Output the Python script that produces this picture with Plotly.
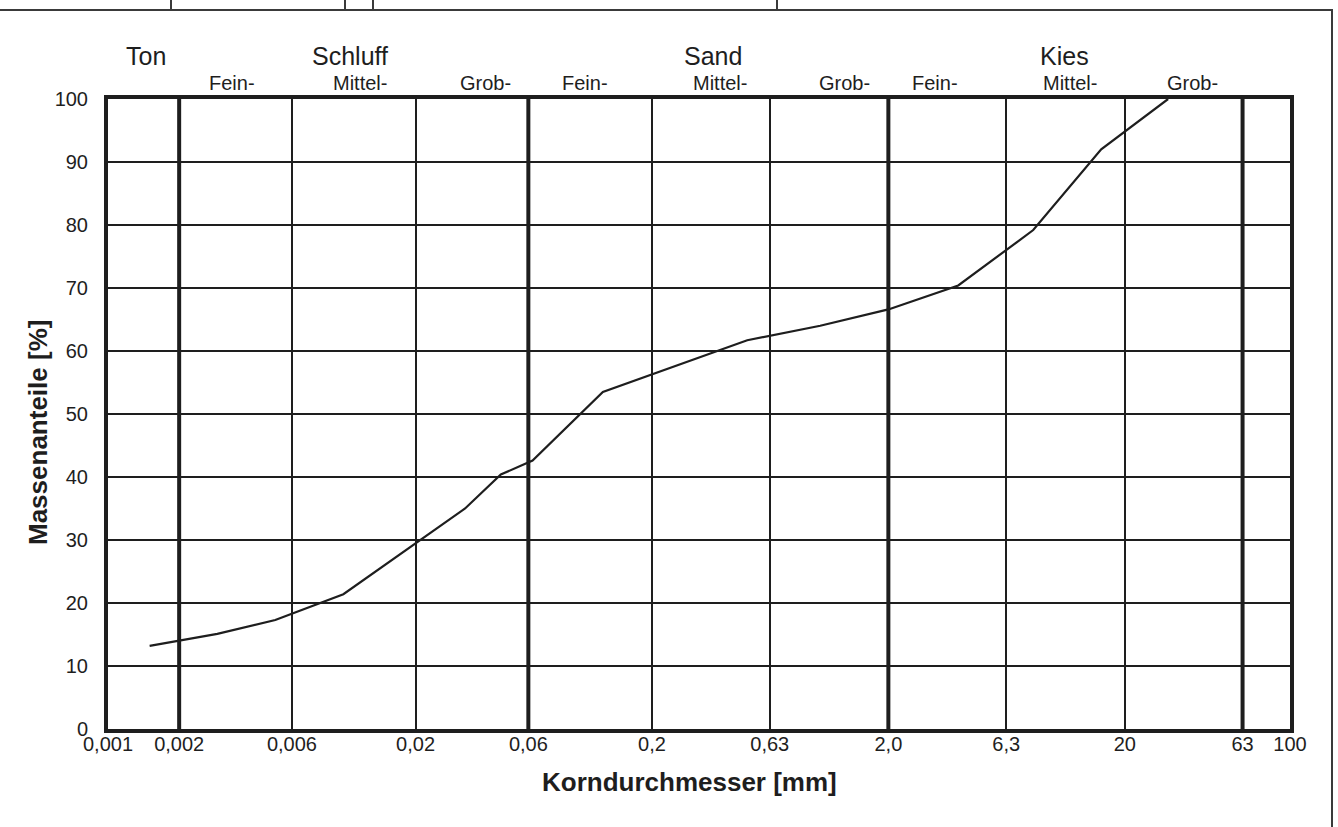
import math
import plotly.graph_objects as go

# ---- data ----
diameter_mm = [0.0015, 0.0029, 0.0051, 0.0099, 0.0324, 0.0459, 0.0625, 0.124,
               0.506, 1.03, 2.0, 3.95, 8.2, 15.9, 30.5]
mass_pct = [13.2, 15.1, 17.3, 21.4, 35.0, 40.4, 42.6, 53.5,
            61.7, 64.0, 66.6, 70.4, 79.2, 92.0, 100.0]

tick_vals = [0.001, 0.002, 0.006, 0.02, 0.06, 0.2, 0.63, 2.0, 6.3, 20, 63, 100]
tick_text = ["0,001", "0,002", "0,006", "0,02", "0,06", "0,2", "0,63", "2,0",
             "6,3", "20", "63", "100"]
boundary_vals = [0.002, 0.06, 2.0, 63]          # thick lines (main fractions)
y_ticks = [0, 10, 20, 30, 40, 50, 60, 70, 80, 90, 100]

main_labels = ["Ton", "Schluff", "Sand", "Kies"]
sub_labels = ["Fein-", "Mittel-", "Grob-", "Fein-", "Mittel-", "Grob-",
              "Fein-", "Mittel-", "Grob-"]

# ---- layout constants (positions, not data) ----
W, H = 1338, 827
L, R, T, B = 108, 1290, 99, 729
main_pos = [0.00145, 0.0106, 0.362, 11.1]
sub_pos = [0.00335, 0.0116, 0.0396, 0.104, 0.388, 1.31, 3.16, 11.7, 38.5]

def px(xp):
    return (xp - L) / (R - L)

def py(yp):
    return (B - yp) / (B - T)

INK = "#1e1e1e"
FONT = "Liberation Sans, Arial, sans-serif"

fig = go.Figure()
fig.add_trace(go.Scatter(
    x=diameter_mm, y=mass_pct, mode="lines",
    line=dict(color=INK, width=2.2), showlegend=False, hoverinfo="skip"))

shapes = []
for v in boundary_vals:
    shapes.append(dict(type="line", xref="x", yref="paper",
                       x0=v, x1=v, y0=0, y1=1,
                       line=dict(color=INK, width=4), layer="below"))

# page frame (decoration)
frame = dict(color="#3a3a3a", width=2)
shapes.append(dict(type="line", xref="paper", yref="paper",
                   x0=px(0), x1=px(1333), y0=py(10), y1=py(10), line=frame))
for xv in [171, 345, 373, 777]:
    shapes.append(dict(type="line", xref="paper", yref="paper",
                       x0=px(xv), x1=px(xv), y0=py(0), y1=py(10), line=frame))
shapes.append(dict(type="line", xref="paper", yref="paper",
                   x0=px(1332), x1=px(1332), y0=py(10), y1=py(827), line=frame))

annotations = []
for t, xv in zip(main_labels, main_pos):
    annotations.append(dict(text=t, x=math.log10(xv), xref="x", y=py(56), yref="paper",
                            showarrow=False, xanchor="center", yanchor="middle",
                            font=dict(family=FONT, size=25, color=INK)))
for t, xv in zip(sub_labels, sub_pos):
    annotations.append(dict(text=t, x=math.log10(xv), xref="x", y=py(83), yref="paper",
                            showarrow=False, xanchor="center", yanchor="middle",
                            font=dict(family=FONT, size=20, color=INK)))
annotations.append(dict(text="<b>Korndurchmesser [mm]</b>", x=px(689), y=py(782),
                        xref="paper", yref="paper", showarrow=False,
                        xanchor="center", yanchor="middle",
                        font=dict(family=FONT, size=26, color=INK)))
annotations.append(dict(text="<b>Massenanteile [%]</b>", x=px(38), y=py(433),
                        xref="paper", yref="paper", showarrow=False, textangle=-90,
                        xanchor="center", yanchor="middle",
                        font=dict(family=FONT, size=26, color=INK)))

fig.update_layout(
    width=W, height=H,
    margin=dict(l=L, r=W - R, t=T, b=H - B, pad=0),
    paper_bgcolor="white", plot_bgcolor="white",
    font=dict(family=FONT, color=INK),
    shapes=shapes, annotations=annotations,
    xaxis=dict(type="log", range=[-3, 2], tickvals=tick_vals, ticktext=tick_text,
               showgrid=True, gridcolor=INK, gridwidth=2, zeroline=False,
               showline=True, linecolor=INK, linewidth=4, mirror=True,
               ticks="", ticklabelstandoff=-6, tickfont=dict(size=20, color=INK)),
    yaxis=dict(range=[0, 100], tickvals=y_ticks,
               showgrid=True, gridcolor=INK, gridwidth=2, zeroline=False,
               showline=True, linecolor=INK, linewidth=4, mirror=True,
               ticks="", ticklabelstandoff=12, tickfont=dict(size=20, color=INK)),
)

fig.write_html("out.html")
